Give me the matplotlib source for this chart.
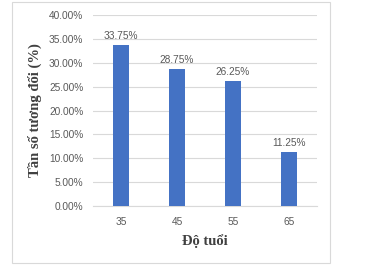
import matplotlib.pyplot as plt
from matplotlib.patches import Rectangle
from matplotlib.ticker import FuncFormatter
import numpy as np

# du lieu
do_tuoi = ['35', '45', '55', '65']
tan_so = [0.3375, 0.2875, 0.2625, 0.1125]
y_ticks = [0.0, 0.05, 0.10, 0.15, 0.20, 0.25, 0.30, 0.35, 0.40]

mau_cot = '#4472C4'
mau_chu = '#595959'

fig = plt.figure(figsize=(3.77, 2.71), dpi=100)
fig.patch.set_facecolor('white')

# khung ngoai
fig.patches.append(Rectangle((0.032, 0.030), 0.843, 0.962, transform=fig.transFigure,
                             fill=False, edgecolor='#D9D9D9', linewidth=0.8))

ax = fig.add_axes([0.2467, 0.2399, 0.594, 0.7047])
x = np.arange(len(do_tuoi))
bars = ax.bar(x, tan_so, width=0.3, color=mau_cot, zorder=3)

for b, v in zip(bars, tan_so):
    ax.text(b.get_x() + b.get_width() / 2, v + 0.008, f'{v*100:.2f}%',
            ha='center', va='bottom', fontsize=7.3, color=mau_chu, family='Liberation Sans')

ax.set_xlim(-0.5, len(do_tuoi) - 0.5)
ax.set_ylim(0, 0.40)
ax.set_yticks(y_ticks)
ax.yaxis.set_major_formatter(FuncFormatter(lambda v, p: f'{v*100:.2f}%'))
ax.set_xticks(x)
ax.set_xticklabels(do_tuoi)
ax.grid(axis='y', color='#D9D9D9', linewidth=0.8, zorder=0)
for s in ['top', 'right', 'left']:
    ax.spines[s].set_visible(False)
ax.spines['bottom'].set_color('#D9D9D9')
ax.tick_params(axis='both', length=0, labelsize=7.3, labelcolor=mau_chu)
ax.tick_params(axis='y', pad=7)
ax.tick_params(axis='x', pad=8)
for t in ax.get_xticklabels() + ax.get_yticklabels():
    t.set_family('Liberation Sans')

ax.set_xlabel('Độ tuổi', family='Liberation Serif', fontweight='bold', fontsize=10.5,
              color='#404040', labelpad=5)
ax.set_ylabel('Tần số tương đối (%)', family='Liberation Serif', fontweight='bold', fontsize=10.5,
              color='#404040', labelpad=5)

fig.savefig('out.png', dpi=100)
